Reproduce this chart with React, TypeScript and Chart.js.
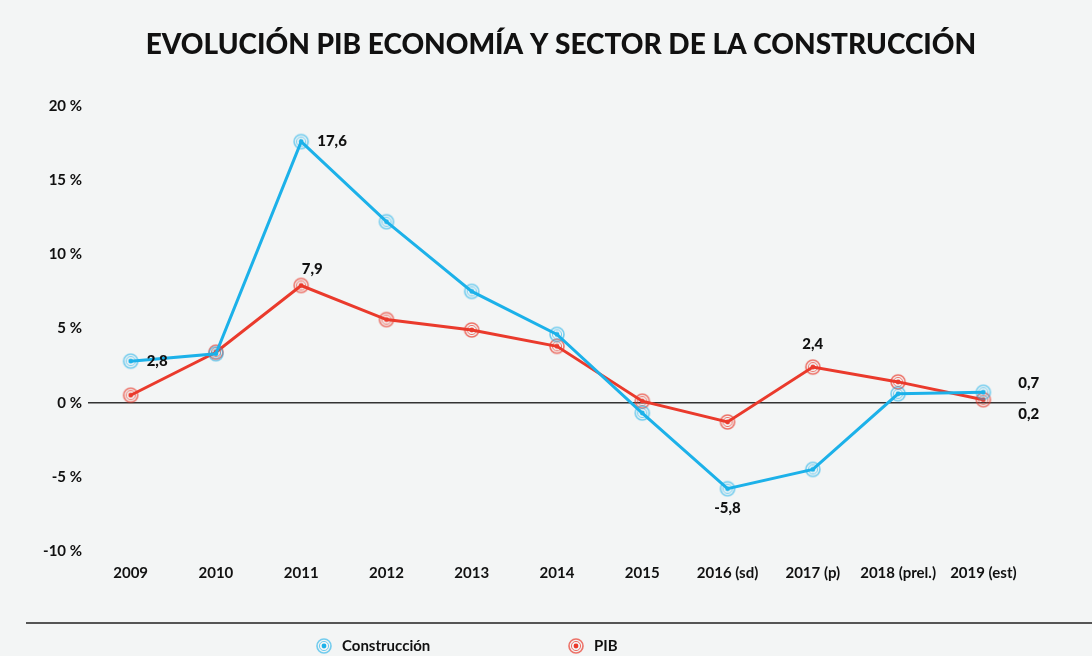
import React, { useEffect, useRef } from "react";
import { Chart, registerables } from "chart.js";

Chart.register(...registerables);

const categories = ["2009", "2010", "2011", "2012", "2013", "2014", "2015", "2016 (sd)", "2017 (p)", "2018 (prel.)", "2019 (est)"];
const construccion = [2.8, 3.3, 17.6, 12.2, 7.5, 4.6, -0.7, -5.8, -4.5, 0.6, 0.7];
const pib = [0.5, 3.4, 7.9, 5.6, 4.9, 3.8, 0.1, -1.3, 2.4, 1.4, 0.2];
const yTicks = [-10, -5, 0, 5, 10, 15, 20];
const seriesNames = ["Construcción", "PIB"];
const titleText = "EVOLUCIÓN PIB ECONOMÍA Y SECTOR DE LA CONSTRUCCIÓN";
// annotated values: [datasetIndex, pointIndex, position]
const annotations: [number, number, string][] = [
  [0, 0, "right"],
  [0, 2, "right"],
  [1, 2, "top"],
  [0, 7, "bottom"],
  [1, 8, "topCenter"],
  [0, 10, "rightUp"],
  [1, 10, "rightDown"],
];

const BLUE = "#1cb1e9";
const RED = "#ea3a2c";
const BG = "#f3f5f5";
const FONT = "Lato, 'Open Sans', sans-serif";

function makeMarker(color: string, ring: string) {
  const c = document.createElement("canvas");
  c.width = 18;
  c.height = 18;
  const x = c.getContext("2d")!;
  x.beginPath();
  x.arc(9, 9, 7, 0, Math.PI * 2);
  x.strokeStyle = ring;
  x.lineWidth = 1.6;
  x.stroke();
  x.beginPath();
  x.arc(9, 9, 4.6, 0, Math.PI * 2);
  x.strokeStyle = ring;
  x.lineWidth = 1;
  x.stroke();
  x.beginPath();
  x.arc(9, 9, 2.4, 0, Math.PI * 2);
  x.fillStyle = color;
  x.fill();
  return c;
}

const fmt = (v: number) => v.toFixed(1).replace(".", ",");

export default function App() {
  const ref = useRef<HTMLCanvasElement>(null);
  useEffect(() => {
    const blueMarker = makeMarker(BLUE, "rgba(28,177,233,0.6)");
    const redMarker = makeMarker(RED, "rgba(234,58,44,0.7)");
    const extras = {
      id: "extras",
      afterDatasetsDraw(chart: any) {
        const ctx = chart.ctx;
        ctx.save();
        // title
        ctx.fillStyle = "#111";
        ctx.font = `900 28px ${FONT}`;
        ctx.textAlign = "center";
        ctx.textBaseline = "middle";
        ctx.fillText(titleText, 561, 45);
        // value annotations
        ctx.font = `900 15px ${FONT}`;
        for (const [di, pi, pos] of annotations) {
          const el = chart.getDatasetMeta(di).data[pi];
          const v = chart.data.datasets[di].data[pi] as number;
          const t = fmt(v);
          let x = el.x, y = el.y;
          ctx.textBaseline = "middle";
          if (pos === "right") { ctx.textAlign = "left"; x += 16; }
          else if (pos === "top") { ctx.textAlign = "center"; x += 11; y -= 16; }
          else if (pos === "topCenter") { ctx.textAlign = "center"; y -= 23; }
          else if (pos === "bottom") { ctx.textAlign = "center"; y += 19; }
          else if (pos === "rightUp") { ctx.textAlign = "left"; x += 35; y -= 9; }
          else if (pos === "rightDown") { ctx.textAlign = "left"; x += 35; y += 14; }
          ctx.fillText(t, x, y);
        }
        // separator and legend
        ctx.strokeStyle = "#555";
        ctx.lineWidth = 2;
        ctx.beginPath();
        ctx.moveTo(26, 623);
        ctx.lineTo(1092, 623);
        ctx.stroke();
        ctx.font = `bold 15px ${FONT}`;
        ctx.textAlign = "left";
        ctx.textBaseline = "middle";
        const items: [HTMLCanvasElement, string, number][] = [
          [blueMarker, seriesNames[0], 324],
          [redMarker, seriesNames[1], 576],
        ];
        for (const [m, name, cx] of items) {
          ctx.drawImage(m, cx - 9, 646 - 9);
          ctx.fillStyle = "#111";
          ctx.fillText(name, cx + 18, 646);
        }
        ctx.restore();
      },
    };
    const chart = new Chart(ref.current!, {
      type: "line",
      data: {
        labels: categories,
        datasets: [
          {
            label: seriesNames[0],
            data: construccion,
            borderColor: BLUE,
            backgroundColor: BLUE,
            borderWidth: 3,
            pointStyle: blueMarker as any,
            pointRadius: 8,
            tension: 0,
          },
          {
            label: seriesNames[1],
            data: pib,
            borderColor: RED,
            backgroundColor: RED,
            borderWidth: 3,
            pointStyle: redMarker as any,
            pointRadius: 8,
            tension: 0,
          },
        ],
      },
      plugins: [extras],
      options: {
        animation: false,
        responsive: false,
        layout: { padding: { left: 0, right: 66, top: 106, bottom: 69 } },
        plugins: {
          legend: { display: false },
          tooltip: { enabled: false },
          title: { display: false },
        },
        scales: {
          x: {
            offset: true,
            grid: { display: false },
            border: { display: false },
            ticks: {
              color: "#111",
              font: { family: FONT, size: 15, weight: "bold" },
              padding: 5,
              maxRotation: 0,
              autoSkip: false,
            },
          },
          y: {
            min: -10,
            max: 20,
            afterBuildTicks: (s: any) => { s.ticks = yTicks.map((v) => ({ value: v })); },
            afterFit: (s: any) => { s.width = 88; },
            grid: {
              drawTicks: false,
              color: (c: any) => (c.tick && c.tick.value === 0 ? "#333" : "transparent"),
              lineWidth: 1.5,
            },
            border: { display: false },
            ticks: {
              color: "#111",
              font: { family: FONT, size: 15, weight: "bold" },
              padding: 6,
              callback: (v: any) => `${v} %`,
            },
          },
        },
      },
    });
    return () => chart.destroy();
  }, []);
  return (
    <div style={{ position: "fixed", left: 0, top: 0, width: 1092, height: 656, background: BG }}>
      <canvas ref={ref} width={1092} height={656} style={{ display: "block" }} />
    </div>
  );
}
